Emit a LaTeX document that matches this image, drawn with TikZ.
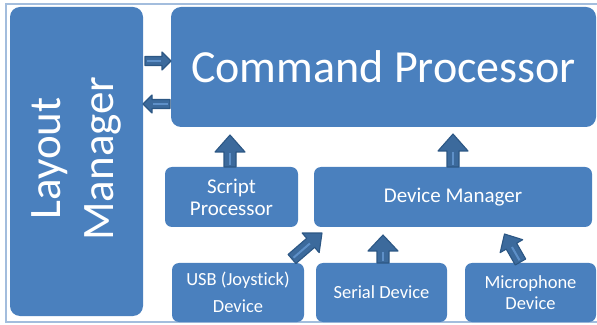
\documentclass[tikz,border=0pt]{standalone}
\usepackage{fontspec}
\setmainfont{Carlito}[Ligatures=NoCommon]
\usetikzlibrary{calc}
\definecolor{boxblue}{HTML}{4A80BE}
\definecolor{arfill}{HTML}{3C6A9C}
\definecolor{arline}{HTML}{2C5784}
\definecolor{arhi}{HTML}{5E90C8}
\definecolor{framec}{HTML}{A3BDDD}
\tikzset{
  blk/.style={fill=boxblue, rounded corners=7pt, inner sep=0pt, outer sep=0pt,
    anchor=north west, text=white, align=center},
  arrowbody/.style={fill=arfill, draw=arline, line width=1.1pt, line join=round},
  arrowhi/.style={draw=arhi, line width=2pt},
}
% #1 from, #2 to, #3 shaft half width, #4 head half width, #5 head length
\newcommand\blockarrow[5]{%
  \path[arrowbody] let \p1=(#1), \p2=(#2),
      \n1={atan2(\y2-\y1,\x2-\x1)}, \n2={veclen(\x2-\x1,\y2-\y1)} in
    [shift={(\p1)}, rotate=\n1]
    (0,-#3) -- (\n2-#5,-#3) -- (\n2-#5,-#4) -- (\n2,0) -- (\n2-#5,#4)
    -- (\n2-#5,#3) -- (0,#3) -- cycle;
  \path[arrowhi] let \p1=(#1), \p2=(#2),
      \n1={atan2(\y2-\y1,\x2-\x1)}, \n2={veclen(\x2-\x1,\y2-\y1)} in
    [shift={(\p1)}, rotate=\n1]
    (2,0) -- (\n2-#5-1,0);
}
\begin{document}
\begin{tikzpicture}[x=1pt,y=1pt]
\useasboundingbox (0,0) rectangle (597,324);
% frame
\draw[framec, line width=1.3pt] (597,320) -- (6,320) -- (6,2) -- (597,2);
% boxes
\node[blk, rounded corners=10pt, minimum width=133pt, minimum height=309pt] (lm) at (10,317) {};
\node[text=white, rotate=90, align=center, font=\fontsize{45}{53}\selectfont] (lmt) at ($(lm.center)+(0,3)$) {Layout\\Manager};
\node[blk, rounded corners=10pt, minimum width=425pt, minimum height=120pt,
      font=\fontsize{46}{53}\selectfont] (cp) at (171,317) {Command Processor};
\node[blk, minimum width=133pt, minimum height=60pt,
      font=\fontsize{21}{22}\selectfont] (sp) at (165,157) {Script\\Processor};
\node[blk, minimum width=278pt, minimum height=60pt,
      font=\fontsize{21}{22}\selectfont] (dm) at (314,157) {Device Manager};
\node[blk, minimum width=132pt, minimum height=59pt,
      font=\fontsize{18.5}{27}\selectfont] (usb) at (172,61) {USB (Joystick)\\Device};
\node[blk, minimum width=131pt, minimum height=59pt,
      font=\fontsize{18.5}{22}\selectfont] (ser) at (316,61) {Serial Device};
\node[blk, minimum width=131pt, minimum height=59pt,
      font=\fontsize{18.5}{21}\selectfont] (mic) at (465,61) {Microphone\\Device};
% connector end points
\coordinate (a1s) at ($(lm.north east)+(2,-54)$);
\coordinate (a1e) at (cp.west |- a1s);
\coordinate (a2s) at ($(cp.north west)+(-1,-97)$);
\coordinate (a2e) at (lm.east |- a2s);
\coordinate (a3s) at ($(sp.north)+(-1.5,0)$);
\coordinate (a3e) at ($(a3s |- cp.south)+(0,-8)$);
\coordinate (a4s) at (dm.north);
\coordinate (a4e) at ($(a4s |- cp.south)+(0,-7)$);
\coordinate (a5s) at ($(usb.north east)+(-12,4)$);
\coordinate (a5e) at ($(dm.south west)+(8,-6)$);
\coordinate (a6s) at ($(ser.north)+(1.5,0)$);
\coordinate (a6e) at ($(a6s |- dm.south)+(0,-8)$);
\coordinate (a7s) at ($(mic.north)+(-10,1)$);
\coordinate (a7e) at ($(mic.north)+(-26,29)$);
% block arrows
\blockarrow{a1s}{a1e}{4.5}{9}{9}
\blockarrow{a2s}{a2e}{4.5}{9}{9}
\blockarrow{a3s}{a3e}{6}{15}{17}
\blockarrow{a4s}{a4e}{6}{15}{17}
\blockarrow{a5s}{a5e}{6}{13}{15}
\blockarrow{a6s}{a6e}{6}{15}{16}
\blockarrow{a7s}{a7e}{6}{13}{14}
\end{tikzpicture}
\end{document}
